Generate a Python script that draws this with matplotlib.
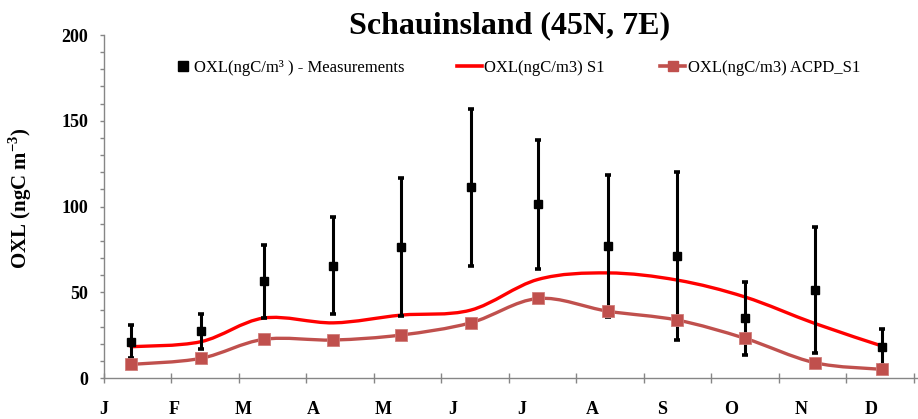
import numpy as np
import matplotlib
matplotlib.use("Agg")
import matplotlib.pyplot as plt
from matplotlib.path import Path
from matplotlib.patches import PathPatch
from matplotlib.lines import Line2D

# ---- data ----
month_labels = ["J", "F", "M", "A", "M", "J", "J", "A", "S", "O", "N", "D"]
# day of year at which each monthly value is plotted
obs_day = [12, 43, 71, 102, 132, 163, 193, 224, 255, 285, 316, 346]
meas = [21.3, 27.5, 56.4, 65.5, 76.5, 111.4, 101.3, 77.1, 71.1, 34.9, 51.3, 18.4]
meas_err = [9.6, 10.2, 21.2, 28.3, 40.3, 45.7, 37.6, 41.5, 48.8, 21.1, 36.8, 10.4]
model_s1 = [18.4, 21.3, 35.1, 32.3, 36.8, 39.7, 57.6, 61.4, 57.2, 47.4, 32.0, 18.8]
model_acpd = [8.1, 11.6, 22.7, 22.3, 25.2, 32.3, 46.5, 39.1, 33.9, 23.3, 9.1, 5.2]

serif = "Liberation Serif"
plt.rcParams["font.family"] = serif
plt.rcParams["mathtext.fontset"] = "custom"
plt.rcParams["mathtext.rm"] = "Liberation Serif:bold"
plt.rcParams["mathtext.bf"] = "Liberation Serif:bold"

RED = "#FF0000"
BROWN = "#C0504D"
GREY = "#868686"


def smooth_path(x, y):
    """Cubic Bezier path through the points (Catmull-Rom style smoothing)."""
    pts = np.column_stack([x, y]).astype(float)
    n = len(pts)
    verts = [pts[0]]
    codes = [Path.MOVETO]
    for i in range(n - 1):
        p0 = pts[i - 1] if i > 0 else pts[i]
        p1 = pts[i]
        p2 = pts[i + 1]
        p3 = pts[i + 2] if i + 2 < n else pts[i + 1]
        c1 = p1 + (p2 - p0) / 6.0
        c2 = p2 - (p3 - p1) / 6.0
        verts += [c1, c2, p2]
        codes += [Path.CURVE4] * 3
    return Path(verts, codes)


fig = plt.figure(figsize=(9.18, 4.19), dpi=100)
ax = fig.add_axes([104 / 918, 1 - 378.3 / 419, 814 / 918, (378.3 - 35) / 419])

# smoothed model lines
ax.add_patch(PathPatch(smooth_path(obs_day, model_s1), fill=False,
                       edgecolor=RED, lw=2.4, zorder=2, capstyle="round"))
ax.add_patch(PathPatch(smooth_path(obs_day, model_acpd), fill=False,
                       edgecolor=BROWN, lw=2.4, zorder=4, capstyle="round"))

# measurements with error bars
ax.errorbar(obs_day, meas, yerr=meas_err, fmt="s", color="black",
            ms=6, elinewidth=2.2, capsize=2, capthick=2.6, zorder=3)

# ACPD markers
ax.plot(obs_day, model_acpd, ls="none", marker="s", ms=9, color=BROWN,
        mec="#D07C79", mew=0.6, zorder=5)

ax.set_xlim(0, 362)
ax.set_ylim(0, 200)

ax.xaxis.remove_overlapping_locs = False
ax.set_xticks(np.arange(0, 361, 30))
ax.set_xticklabels([])
ax.set_xticks(np.arange(12) * 31.0, minor=True)
ax.set_xticklabels(month_labels, minor=True)
ax.tick_params(axis="x", which="major", direction="inout", length=6.5,
               width=1, color=GREY)
ax.tick_params(axis="x", which="minor", length=0, pad=16, labelsize=13)

ax.set_yticks(np.arange(0, 201, 50))
ax.set_yticks(np.arange(0, 201, 10), minor=True)
ax.tick_params(axis="y", which="both", direction="out", length=3.2,
               width=1, color=GREY, pad=8, labelsize=13)

for lab in ax.get_xticklabels(minor=True) + ax.get_yticklabels():
    lab.set_fontweight("bold")

for side in ("top", "right"):
    ax.spines[side].set_visible(False)
for side in ("left", "bottom"):
    ax.spines[side].set_color(GREY)
    ax.spines[side].set_linewidth(1.0)

fig.text(0.022, 1 - 198 / 419, r"OXL (ngC m$^{\mathbf{-3}}$)", rotation=90,
         ha="center", va="center", fontsize=15, fontweight="bold")

fig.text(510 / 918, 1 - 26 / 419, "Schauinsland (45N, 7E)", ha="center",
         va="center", fontsize=23, fontweight="bold")

# legend entries, one per series
leg_y = 1 - 68 / 419
entries = [
    (Line2D([], [], ls="none", marker="s", ms=7, color="black"),
     "OXL(ngC/m³ ) - Measurements", 175 / 918, 1.0),
    (Line2D([], [], color=RED, lw=2.6),
     "OXL(ngC/m3) S1", 457 / 918, 1.5),
    (Line2D([], [], color=BROWN, lw=2.6, marker="s", ms=7, mec=BROWN),
     "OXL(ngC/m3) ACPD_S1", 660 / 918, 1.5),
]
for handle, label, x0, hl in entries:
    fig.legend(handles=[handle], labels=[label], loc="center left",
               bbox_to_anchor=(x0, leg_y), frameon=False, borderpad=0,
               borderaxespad=0, handlelength=hl, handletextpad=0.15,
               prop={"family": serif, "size": 12})

fig.savefig("out.png", dpi=100)
